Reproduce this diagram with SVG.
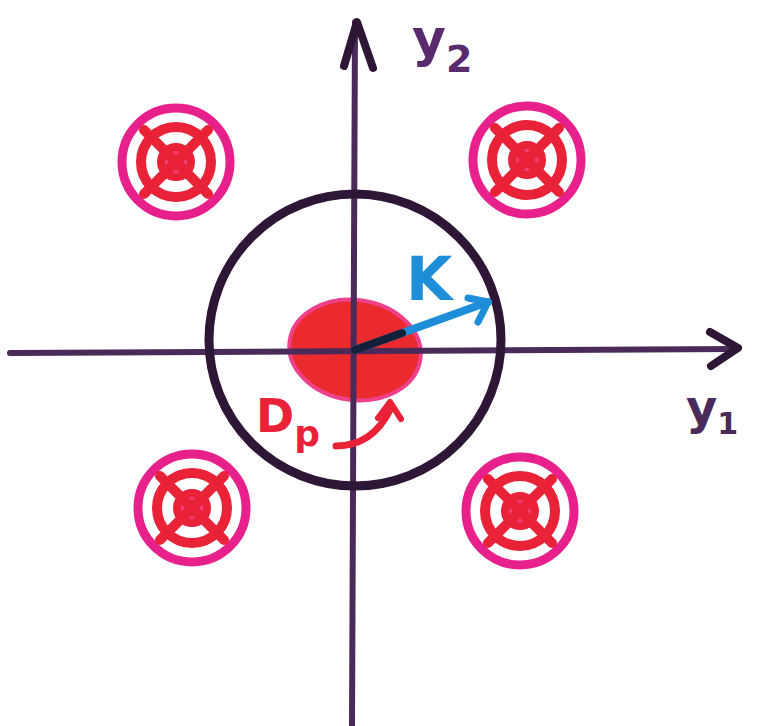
<svg xmlns="http://www.w3.org/2000/svg" width="764" height="726" viewBox="0 0 764 726">
<defs>
<style>
.axis{stroke:#4a2a58;stroke-width:6;fill:none;stroke-linecap:round;stroke-linejoin:round}
.head{stroke:#2e1636;stroke-width:8;fill:none;stroke-linecap:round;stroke-linejoin:round}
.ring{stroke:#2e1636;stroke-width:9;fill:none}
.pink{stroke:#e8208c;stroke-width:9;fill:none}
.red{stroke:#ea2238;stroke-width:10;fill:none;stroke-linecap:round}
.lbl{font-family:"DejaVu Sans",sans-serif;font-weight:bold}
</style>
<g id="target">
<circle r="54" class="pink"/>
<circle r="35" class="red"/>
<circle r="15" fill="#f0407a" stroke="#ea2238" stroke-width="8"/>
<line x1="-32" y1="-32" x2="32" y2="32" class="red" stroke-width="8"/>
<line x1="32" y1="-32" x2="-32" y2="32" class="red" stroke-width="8"/>
</g>
</defs>
<rect width="764" height="726" fill="#ffffff"/>
<g id="targets">
<use id="target-tl" href="#target" x="176" y="162"/>
<use id="target-tr" href="#target" x="527" y="160"/>
<use id="target-bl" href="#target" x="192" y="508"/>
<use id="target-br" href="#target" x="520" y="511"/>
</g>
<g id="blob">
<ellipse cx="355" cy="350" rx="66" ry="50" transform="rotate(8 355 350)" fill="#ea2a2c" stroke="#f0408a" stroke-width="4"/>
</g>
<g id="axes">
<line class="axis" x1="355" y1="22" x2="352" y2="726"/>
<line class="axis" x1="10" y1="353" x2="736" y2="349"/>
<polyline class="head" points="344,66 357,22 373,68"/>
<polyline class="head" points="710,332 738,348 711,366"/>
</g>
<g id="circle">
<circle class="ring" cx="355" cy="340" r="146"/>
</g>
<g id="k-arrow">
<line x1="355" y1="350" x2="488" y2="302" stroke="#1e8ed8" stroke-width="8" stroke-linecap="round"/>
<line x1="355" y1="350" x2="402" y2="333" stroke="#14203a" stroke-width="8" stroke-linecap="round"/>
<polyline points="468,298 488,302 478,322" stroke="#1e8ed8" stroke-width="7" fill="none" stroke-linecap="round" stroke-linejoin="round"/>
</g>
<g id="dp-arrow">
<path d="M336,446 Q372,446 390,410" stroke="#ea2238" stroke-width="7" fill="none" stroke-linecap="round"/>
<polyline points="378,418 390,402 401,419" stroke="#ea2238" stroke-width="6" fill="none" stroke-linecap="round" stroke-linejoin="round"/>
</g>
<g id="labels">
<text class="lbl" x="406" y="300" font-size="60" fill="#1e8ed8">K</text>
<text class="lbl" x="256" y="432" font-size="46" fill="#ea2238">D<tspan font-size="36" dy="14">p</tspan></text>
<text class="lbl" x="412" y="56" font-size="52" fill="#5a2a6e">y<tspan font-size="38" dy="16">2</tspan></text>
<text class="lbl" x="686" y="424" font-size="48" fill="#4a2a58">y<tspan font-size="30" dy="10">1</tspan></text>
</g>
</svg>
